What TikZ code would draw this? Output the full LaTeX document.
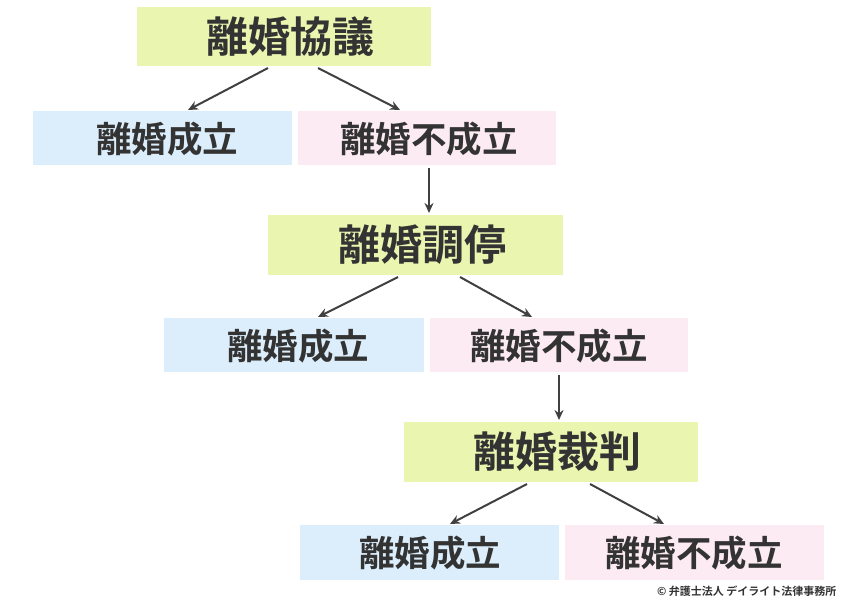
\documentclass[tikz,border=0pt]{standalone}
\usepackage{fontspec}
\setmainfont{Noto Sans CJK JP}
\newfontfamily\cjkb{Noto Sans CJK JP Bold}
\usetikzlibrary{arrows.meta}
\begin{document}
\begin{tikzpicture}[x=1pt,y=-1pt,
  gt/.style={font=\cjkb\fontsize{42}{44}\selectfont, text=black!80},
  st/.style={font=\cjkb\fontsize{35.5}{37}\selectfont, text=black!80},
  arr/.style={draw=black!75, line width=2pt, -{Stealth[length=10pt,width=9pt]}}]
\useasboundingbox (0,0) rectangle (850,600);
\definecolor{gc}{HTML}{EAF6B0}\definecolor{bc}{HTML}{DCEEFB}\definecolor{pc}{HTML}{FDEBF3}
\fill[gc] (137,7) rectangle (431,66); \node[gt] (g1) at (290,37) {離婚協議};
\fill[bc] (33,111) rectangle (292,165); \node[st] (b1) at (167,139) {離婚成立};
\fill[pc] (298,111) rectangle (556,165); \node[st] (p1) at (429,139) {離婚不成立};
\fill[gc] (268,215) rectangle (563,275); \node[gt] (g2) at (422,245) {離婚調停};
\fill[bc] (164,318) rectangle (424,372); \node[st] (b2) at (298,346) {離婚成立};
\fill[pc] (430,318) rectangle (688,372); \node[st] (p2) at (559,346) {離婚不成立};
\fill[gc] (404,422) rectangle (698,482); \node[gt] (g3) at (557,452) {離婚裁判};
\fill[bc] (300,525) rectangle (559,580); \node[st] (b3) at (430,553) {離婚成立};
\fill[pc] (565,525) rectangle (824,580); \node[st] (p3) at (694,553) {離婚不成立};
\draw[arr] (268,68) -- (188,110); \draw[arr] (318,68) -- (400,110);
\draw[arr] (429,168) -- (429,213);
\draw[arr] (398,277) -- (318,317); \draw[arr] (460,277) -- (532,317);
\draw[arr] (559,375) -- (559,420);
\draw[arr] (527,484) -- (450,524); \draw[arr] (590,484) -- (664,524);
\node[font=\cjkb\fontsize{11}{12}\selectfont, text=black!80, anchor=east] (c) at (840,591) {© 弁護士法人 デイライト法律事務所};
\end{tikzpicture}
\end{document}
